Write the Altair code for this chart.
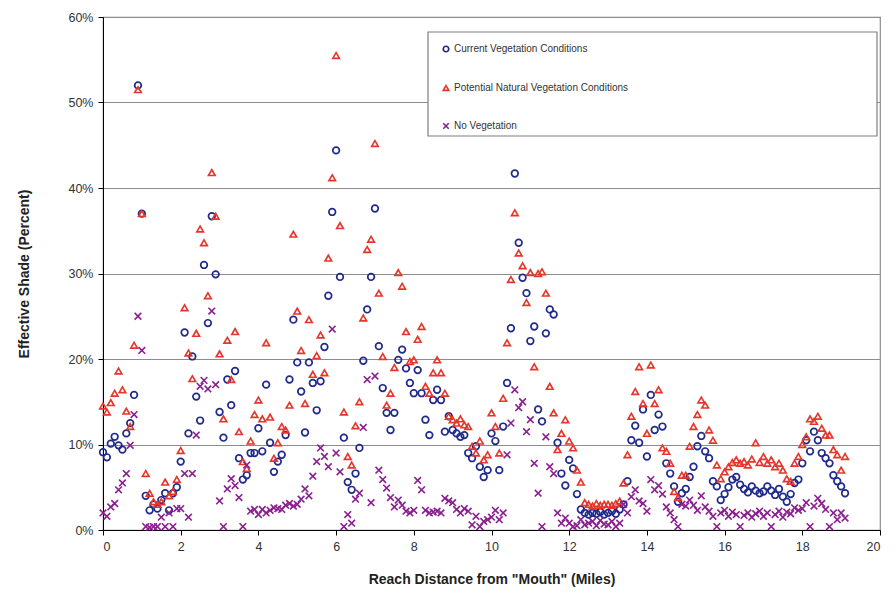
import altair as alt
import pandas as pd

# Station distances (miles) - reaches are sampled every 0.1 mile
distance = [round(i * 0.1, 1) for i in range(192)]

current = [
    9.1, 8.5, 10.1, 10.9, 9.9, 9.4, 11.3, 12.5, 15.8, 52.0,
    37.0, 4.0, 2.3, 3.0, 2.5, 3.5, 4.3, 2.3, 4.3, 5.0,
    8.0, 23.1, 11.3, 20.3, 15.6, 12.8, 31.0, 24.2, 36.7, 29.9,
    13.8, 10.8, 17.6, 14.6, 18.6, 8.4, 5.9, 6.4, 9.0, 9.0,
    11.9, 9.2, 17.0, 10.2, 6.8, 8.0, 8.8, 11.1, 17.6, 24.6,
    19.6, 16.2, 11.4, 19.6, 17.2, 14.0, 17.4, 21.4, 27.4, 37.2,
    44.4, 29.6, 10.8, 5.6, 4.7, 6.6, 9.6, 19.8, 25.8, 29.6,
    37.6, 21.5, 16.6, 13.7, 11.7, 13.7, 19.9, 21.1, 18.9, 17.2,
    16.0, 18.7, 16.0, 12.9, 11.1, 15.2, 16.4, 15.2, 11.5, 13.3,
    11.7, 11.3, 10.9, 11.1, 9.0, 8.4, 9.8, 7.4, 6.2, 7.0,
    11.3, 10.4, 7.0, 12.1, 17.2, 23.6, 41.7, 33.6, 29.5, 27.7,
    22.1, 23.8, 14.1, 12.7, 23.0, 25.8, 25.2, 10.2, 6.6, 5.2,
    8.2, 7.2, 4.2, 2.4, 2.0, 1.8, 2.0, 1.9, 2.1, 1.8,
    2.0, 2.2, 1.9, 2.4, 3.0, 5.7, 10.5, 12.2, 10.2, 14.1,
    8.6, 15.8, 11.7, 13.5, 12.1, 7.8, 6.6, 5.1, 3.3, 4.3,
    4.8, 6.2, 7.4, 9.8, 11.0, 9.2, 8.4, 5.7, 5.1, 3.5,
    4.2, 5.0, 5.9, 6.2, 5.3, 4.8, 4.4, 5.1, 4.6, 4.3,
    4.5, 5.1, 4.6, 4.1, 4.8, 3.9, 3.3, 4.2, 5.5, 5.9,
    7.8, 10.5, 9.2, 11.5, 10.5, 9.0, 8.4, 7.8, 6.4, 5.7,
    5.1, 4.3,
]

potential = [
    14.5, 13.8, 14.9, 16.0, 18.6, 16.4, 13.9, 12.1, 21.6, 51.5,
    37.0, 6.6, 4.3, 3.3, 3.0, 3.3, 5.6, 4.0, 4.5, 5.9,
    9.3, 26.0, 20.7, 17.7, 23.0, 35.2, 33.6, 27.4, 41.8, 36.7,
    20.6, 13.0, 22.2, 17.6, 23.2, 11.5, 8.0, 7.2, 10.4, 13.5,
    15.2, 13.0, 21.9, 13.2, 8.4, 10.2, 12.1, 11.7, 14.6, 34.6,
    25.6, 21.0, 14.8, 24.6, 18.2, 20.4, 22.8, 18.4, 31.8, 41.2,
    55.5, 35.6, 13.8, 8.6, 7.6, 12.2, 15.0, 24.8, 32.8, 34.0,
    45.2, 27.7, 20.3, 14.6, 16.0, 19.0, 30.1, 28.5, 23.2, 19.7,
    19.9, 22.3, 23.8, 16.8, 16.0, 18.4, 19.9, 18.4, 16.0, 13.3,
    12.9, 12.5, 13.0, 12.3, 12.1, 9.8, 9.0, 10.4, 8.2, 8.8,
    13.7, 12.1, 9.0, 15.4, 21.9, 29.3, 37.1, 32.4, 30.9, 26.6,
    30.1, 19.1, 30.0, 30.2, 27.7, 16.8, 13.7, 9.4, 11.3, 12.9,
    10.4, 9.6, 7.0, 5.6, 3.2, 3.0, 2.8, 3.1, 2.9, 3.0,
    3.0, 2.9, 3.1, 3.4, 5.5, 8.8, 13.3, 16.2, 19.1, 14.8,
    11.3, 19.3, 14.8, 16.4, 9.6, 9.2, 7.8, 4.5, 3.8, 6.4,
    6.4, 9.8, 12.1, 13.5, 15.2, 14.6, 11.7, 10.5, 7.6, 6.0,
    6.8, 7.4, 7.9, 8.2, 7.8, 8.0, 7.6, 8.3, 10.2, 7.9,
    8.6, 7.8, 8.2, 7.4, 7.8, 7.0, 6.0, 5.7, 7.8, 8.6,
    10.0, 10.9, 13.0, 12.7, 13.3, 11.9, 11.1, 11.1, 9.4, 8.8,
    7.0, 8.6,
]

no_vegetation = [
    2.0, 1.6, 2.7, 3.1, 4.7, 5.5, 6.6, 9.9, 13.5, 25.0,
    21.0, 0.4, 0.3, 0.4, 0.4, 1.5, 0.4, 2.0, 0.4, 2.5,
    2.5, 6.6, 1.5, 6.6, 11.1, 16.8, 17.5, 16.5, 25.6, 17.0,
    3.4, 0.4, 4.8, 6.0, 5.2, 3.8, 0.4, 7.6, 2.2, 2.4,
    1.8, 2.4, 2.0, 2.3, 2.6, 2.5, 2.4, 2.9, 3.1, 2.8,
    3.0, 3.6, 4.8, 4.0, 6.3, 8.0, 9.6, 8.6, 7.4, 23.5,
    9.0, 6.8, 0.4, 1.8, 0.8, 3.6, 4.3, 12.0, 17.6, 3.2,
    18.0, 7.0, 5.9, 4.9, 3.8, 2.7, 3.5, 2.9, 2.2, 2.0,
    2.3, 5.8, 4.7, 2.3, 2.0, 2.1, 2.2, 2.0, 3.7, 3.4,
    3.2, 2.4, 2.0, 2.5, 2.2, 0.6, 1.6, 0.4, 1.0, 1.2,
    1.5, 2.3, 1.2, 2.0, 8.8, 12.5, 16.4, 14.3, 15.0, 11.5,
    12.9, 7.8, 4.3, 0.4, 10.9, 7.4, 6.6, 2.0, 0.8, 1.4,
    0.8, 0.4, 0.5, 1.2, 0.6, 0.8, 1.0, 0.5, 1.1, 0.7,
    0.6, 1.0, 0.4, 0.8, 3.0, 2.0, 3.9, 4.7, 3.4, 3.1,
    2.2, 5.9, 4.7, 5.2, 4.2, 2.7, 2.0, 1.2, 0.4, 3.0,
    2.8, 3.5, 2.9, 2.3, 4.0, 2.7, 2.2, 1.6, 0.4, 2.0,
    2.3, 1.6, 2.1, 1.8, 0.4, 1.7, 2.0, 1.5, 1.9, 2.2,
    1.6, 2.0, 0.4, 1.8, 2.2, 1.5, 2.1, 1.9, 2.6, 2.3,
    2.5, 3.2, 0.4, 2.8, 3.7, 3.1, 2.4, 0.4, 2.0, 1.2,
    2.0, 1.4,
]

series_names = [
    "Current Vegetation Conditions",
    "Potential Natural Vegetation Conditions",
    "No Vegetation",
]
series_colors = ["#1f2a8c", "#e6352b", "#8a1f8f"]
X_PATH = "M-1,-1L1,1M-1,1L1,-1"
series_shapes = ["circle", "triangle-up", X_PATH]
series_strokes = [1.7, 1.6, 2.4]

rows = []
for name, vals in zip(series_names, [current, potential, no_vegetation]):
    for d, v in zip(distance, vals):
        rows.append({"Distance": d, "Shade": v, "Series": name})
df = pd.DataFrame(rows)

FONT = "Liberation Sans"

frame = alt.Chart(alt.Data(values=[{}])).mark_rect(
    fill="white", stroke="#7f7f7f", strokeWidth=1.2
).encode(
    x=alt.value(325), x2=alt.value(774), y=alt.value(15), y2=alt.value(119)
)

points = alt.Chart(df).mark_point(filled=False, size=44, opacity=1).encode(
    x=alt.X(
        "Distance:Q",
        scale=alt.Scale(domain=[0, 20], nice=False, zero=True),
        axis=alt.Axis(
            values=list(range(0, 21, 2)),
            title='Reach Distance from "Mouth" (Miles)',
            grid=False,
            titlePadding=20,
            labelPadding=5,
        ),
    ),
    y=alt.Y(
        "Shade:Q",
        scale=alt.Scale(domain=[0, 60], nice=False),
        axis=alt.Axis(
            values=list(range(0, 61, 10)),
            labelExpr="datum.value + '%'",
            title="Effective Shade (Percent)",
            grid=True,
            titlePadding=36,
            labelPadding=5,
        ),
    ),
    color=alt.Color(
        "Series:N",
        scale=alt.Scale(domain=series_names, range=series_colors),
        legend=alt.Legend(title=None),
    ),
    shape=alt.Shape(
        "Series:N",
        scale=alt.Scale(domain=series_names, range=series_shapes),
        legend=alt.Legend(title=None),
    ),
    strokeWidth=alt.StrokeWidth(
        "Series:N",
        scale=alt.Scale(domain=series_names, range=series_strokes),
        legend=None,
    ),
)

chart = alt.layer(frame, points).properties(
    width=777,
    height=513,
    autosize=alt.AutoSizeParams(type="none"),
    padding={"left": 103, "top": 17, "right": 15, "bottom": 72},
).configure_view(
    stroke="#8c8c8c", strokeWidth=1.2
).configure_axis(
    domainColor="#000000",
    domainWidth=1,
    tickColor="#000000",
    tickSize=5,
    gridColor="#8c8c8c",
    gridWidth=1.2,
    labelFont=FONT,
    labelFontSize=12.5,
    labelColor="#333333",
    titleFont=FONT,
    titleFontSize=14,
    titleFontWeight="bold",
    titleColor="#222222",
).configure_legend(
    orient="none",
    legendX=338,
    legendY=27,
    padding=0,
    rowPadding=26,
    labelFont=FONT,
    labelFontSize=10,
    labelColor="#333333",
    symbolSize=30,
    symbolStrokeWidth=1.4,
    labelOffset=3,
    labelLimit=400,
)

chart.save("out.html", embed_options={"renderer": "svg", "actions": False})
